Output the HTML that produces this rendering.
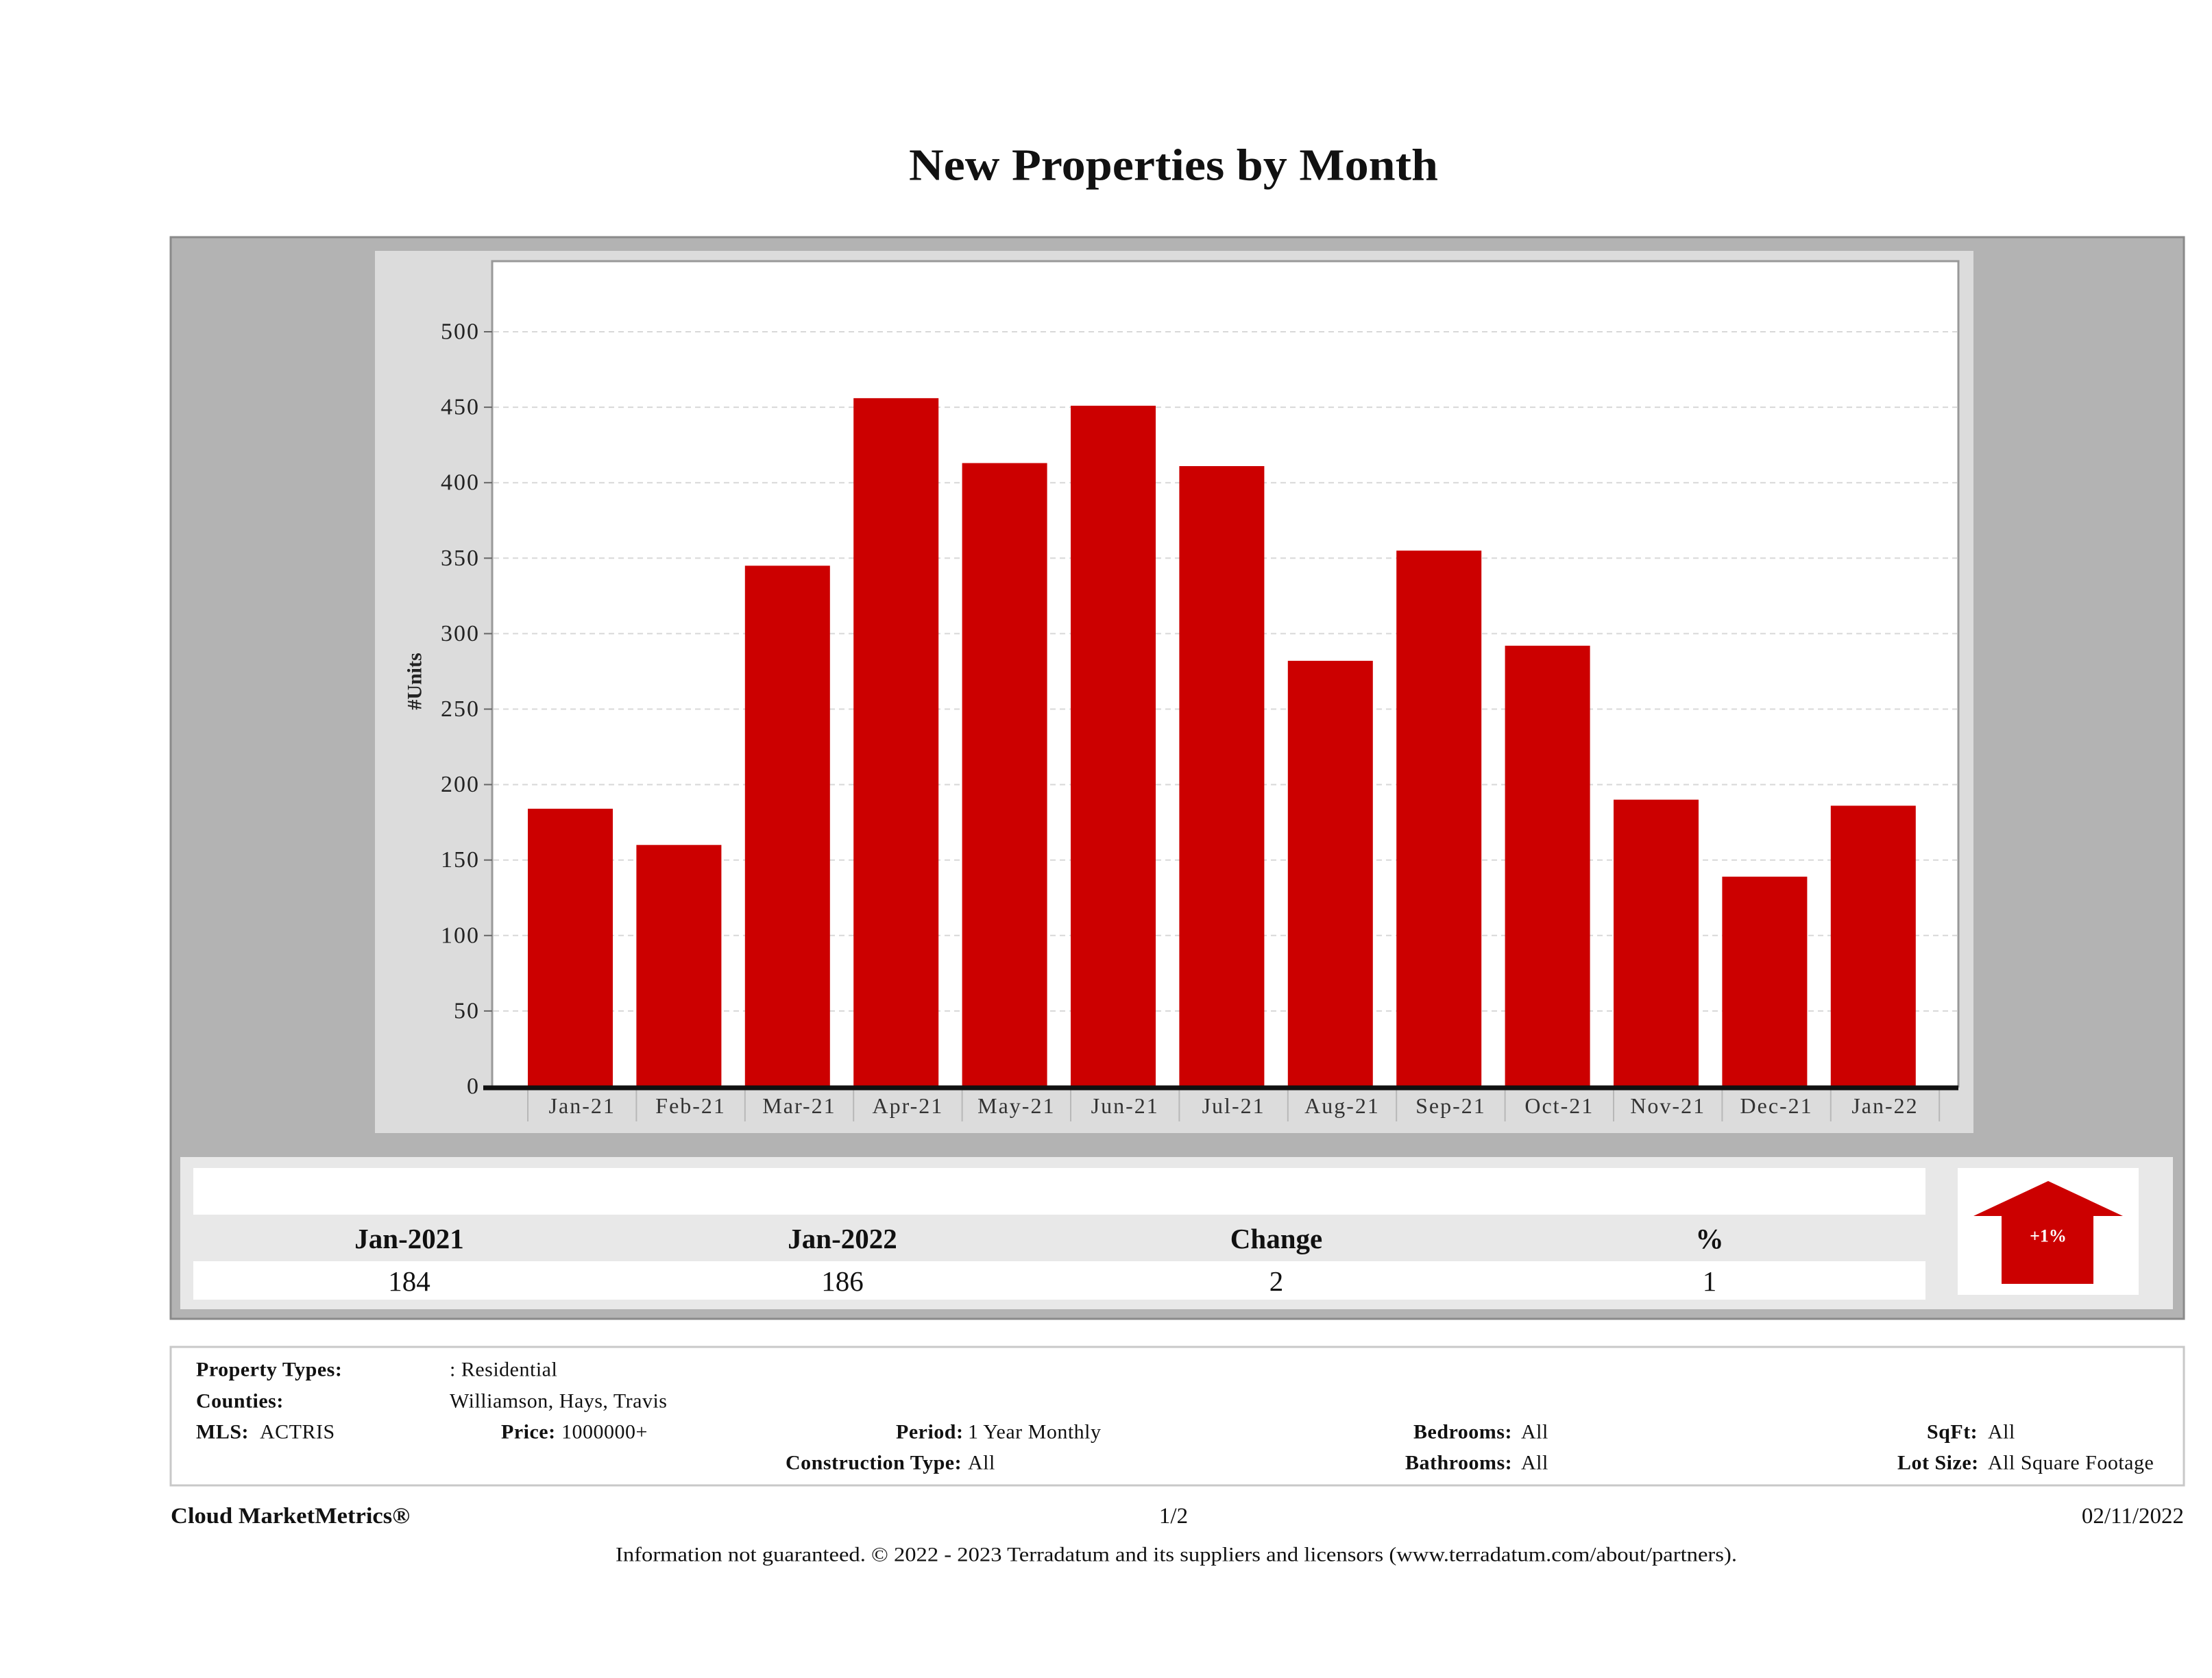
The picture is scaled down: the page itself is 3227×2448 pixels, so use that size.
<!DOCTYPE html>
<html><head><meta charset="utf-8"><style>
html,body{margin:0;padding:0;background:#fff;}
svg{display:block;font-family:"Liberation Serif",serif;}
</style></head><body>
<svg id="page" width="3227" height="2448" viewBox="0 0 3227 2448" xmlns="http://www.w3.org/2000/svg">
<text x="1712" y="241" text-anchor="middle" dominant-baseline="central" font-size="66" font-weight="bold" fill="#111" textLength="772" lengthAdjust="spacingAndGlyphs">New Properties by Month</text>
<rect x="249" y="346" width="2937" height="1578" fill="#b3b3b3" stroke="#8a8a8a" stroke-width="3"/>
<rect x="547" y="366" width="2332" height="1287" fill="#dcdcdc"/>
<rect x="718" y="381" width="2139" height="1204" fill="#fff" stroke="#999" stroke-width="3"/>
<g id="grid"></g>
<g id="yticks"></g>
<g id="bars"></g>
<g id="xticks"></g>
<line x1="705" y1="1587" x2="2857" y2="1587" stroke="#111" stroke-width="7"/>
<text transform="translate(605,994) rotate(-90)" text-anchor="middle" dominant-baseline="central" font-size="30" font-weight="bold" fill="#222">#Units</text>

<rect x="263" y="1688" width="2907" height="222" fill="#e8e8e8"/>
<rect x="282" y="1704" width="2527" height="68" fill="#fff"/>
<rect x="282" y="1840" width="2527" height="56" fill="#fff"/>
<g font-size="41" text-anchor="middle" dominant-baseline="central" fill="#111">
<text x="597" y="1807" font-weight="bold">Jan-2021</text>
<text x="1229" y="1807" font-weight="bold">Jan-2022</text>
<text x="1862" y="1807" font-weight="bold">Change</text>
<text x="2494" y="1807" font-weight="bold">%</text>
<text x="597" y="1869">184</text>
<text x="1229" y="1869">186</text>
<text x="1862" y="1869">2</text>
<text x="2494" y="1869">1</text>
</g>
<rect x="2856" y="1704" width="264" height="185" fill="#fff"/>
<polygon points="2988,1723 3097,1774 3054,1774 3054,1873 2920,1873 2920,1774 2879,1774" fill="#cc0000"/>
<text x="2988" y="1803" text-anchor="middle" dominant-baseline="central" font-size="26" font-weight="bold" fill="#fff">+1%</text>

<rect x="249" y="1965" width="2937" height="202" fill="#fff" stroke="#c8c8c8" stroke-width="3"/>
<g font-size="30" fill="#111" dominant-baseline="central" letter-spacing="0.5">
<text x="286" y="1998" font-weight="bold">Property Types:</text>
<text x="656" y="1998">: Residential</text>
<text x="286" y="2044" font-weight="bold">Counties:</text>
<text x="656" y="2044">Williamson, Hays, Travis</text>
<text x="286" y="2089" font-weight="bold">MLS:</text>
<text x="379" y="2089">ACTRIS</text>
<text x="731" y="2089" font-weight="bold">Price:</text>
<text x="819" y="2089">1000000+</text>
<text x="1307" y="2089" font-weight="bold">Period:</text>
<text x="1412" y="2089">1 Year Monthly</text>
<text x="2062" y="2089" font-weight="bold">Bedrooms:</text>
<text x="2219" y="2089">All</text>
<text x="2811" y="2089" font-weight="bold">SqFt:</text>
<text x="2900" y="2089">All</text>
<text x="1146" y="2134" font-weight="bold">Construction Type:</text>
<text x="1412" y="2134">All</text>
<text x="2050" y="2134" font-weight="bold">Bathrooms:</text>
<text x="2219" y="2134">All</text>
<text x="2768" y="2134" font-weight="bold">Lot Size:</text>
<text x="2900" y="2134">All Square Footage</text>
</g>
<g font-size="33" fill="#111" dominant-baseline="central">
<text x="249" y="2212" font-weight="bold" textLength="349" lengthAdjust="spacingAndGlyphs">Cloud MarketMetrics®</text>
<text x="1712" y="2212" text-anchor="middle">1/2</text>
<text x="3186" y="2212" text-anchor="end">02/11/2022</text>
<text x="1716" y="2268" text-anchor="middle" font-size="30" textLength="1636" lengthAdjust="spacingAndGlyphs">Information not guaranteed. © 2022 - 2023 Terradatum and its suppliers and licensors (www.terradatum.com/about/partners).</text>
</g>
</svg>
<script>
const categories = ["Jan-21","Feb-21","Mar-21","Apr-21","May-21","Jun-21","Jul-21","Aug-21","Sep-21","Oct-21","Nov-21","Dec-21","Jan-22"];
const newListings = [184,160,345,456,413,451,411,282,355,292,190,139,186];
const yTickValues = [0,50,100,150,200,250,300,350,400,450,500];

const NS = "http://www.w3.org/2000/svg";
const X0 = 770, STEP = 158.4, BARW = 124;
const Y0 = 1585, PXU = 2.202;
function xScale(i){ return X0 + i*STEP; }
function yScale(v){ return Y0 - v*PXU; }
function mk(tag, attrs, parent){ const e=document.createElementNS(NS,tag); for(const k in attrs) e.setAttribute(k,attrs[k]); parent.appendChild(e); return e; }

const grid = document.getElementById('grid');
const yt = document.getElementById('yticks');
yTickValues.forEach(v=>{
  const y=yScale(v);
  if(v>0){
    const g=mk('line',{x1:720,x2:2855,y1:y,y2:y,stroke:'#d8d8d8','stroke-width':2,'stroke-dasharray':'8,6'},grid);
    
    
  }
  const tk=mk('line',{x1:706,x2:718,y1:y,y2:y,stroke:'#666','stroke-width':2},yt);
  
  
  const t=mk('text',{x:700,y:y,'text-anchor':'end','dominant-baseline':'central','font-size':34,'letter-spacing':2,fill:'#222'},yt);
  
  
  t.textContent=v;
});

const bars = document.getElementById('bars');
const xt = document.getElementById('xticks');
categories.forEach((c,i)=>{
  const x=xScale(i), v=newListings[i];
  const b=mk('rect',{x:x,y:yScale(v),width:BARW,height:Y0-yScale(v),fill:'#cc0000'},bars);
  
  
  const s=mk('line',{x1:x,x2:x,y1:1590,y2:1636,stroke:'#b8b8b8','stroke-width':2},xt);
  
  
  const t=mk('text',{x:x+STEP/2,y:1613,'text-anchor':'middle','dominant-baseline':'central','font-size':32,'letter-spacing':2,fill:'#333'},xt);
  
  
  t.textContent=c;
});
const last=xScale(categories.length);
const s2=mk('line',{x1:last,x2:last,y1:1590,y2:1636,stroke:'#b8b8b8','stroke-width':2},xt);


</script>
</body></html>
